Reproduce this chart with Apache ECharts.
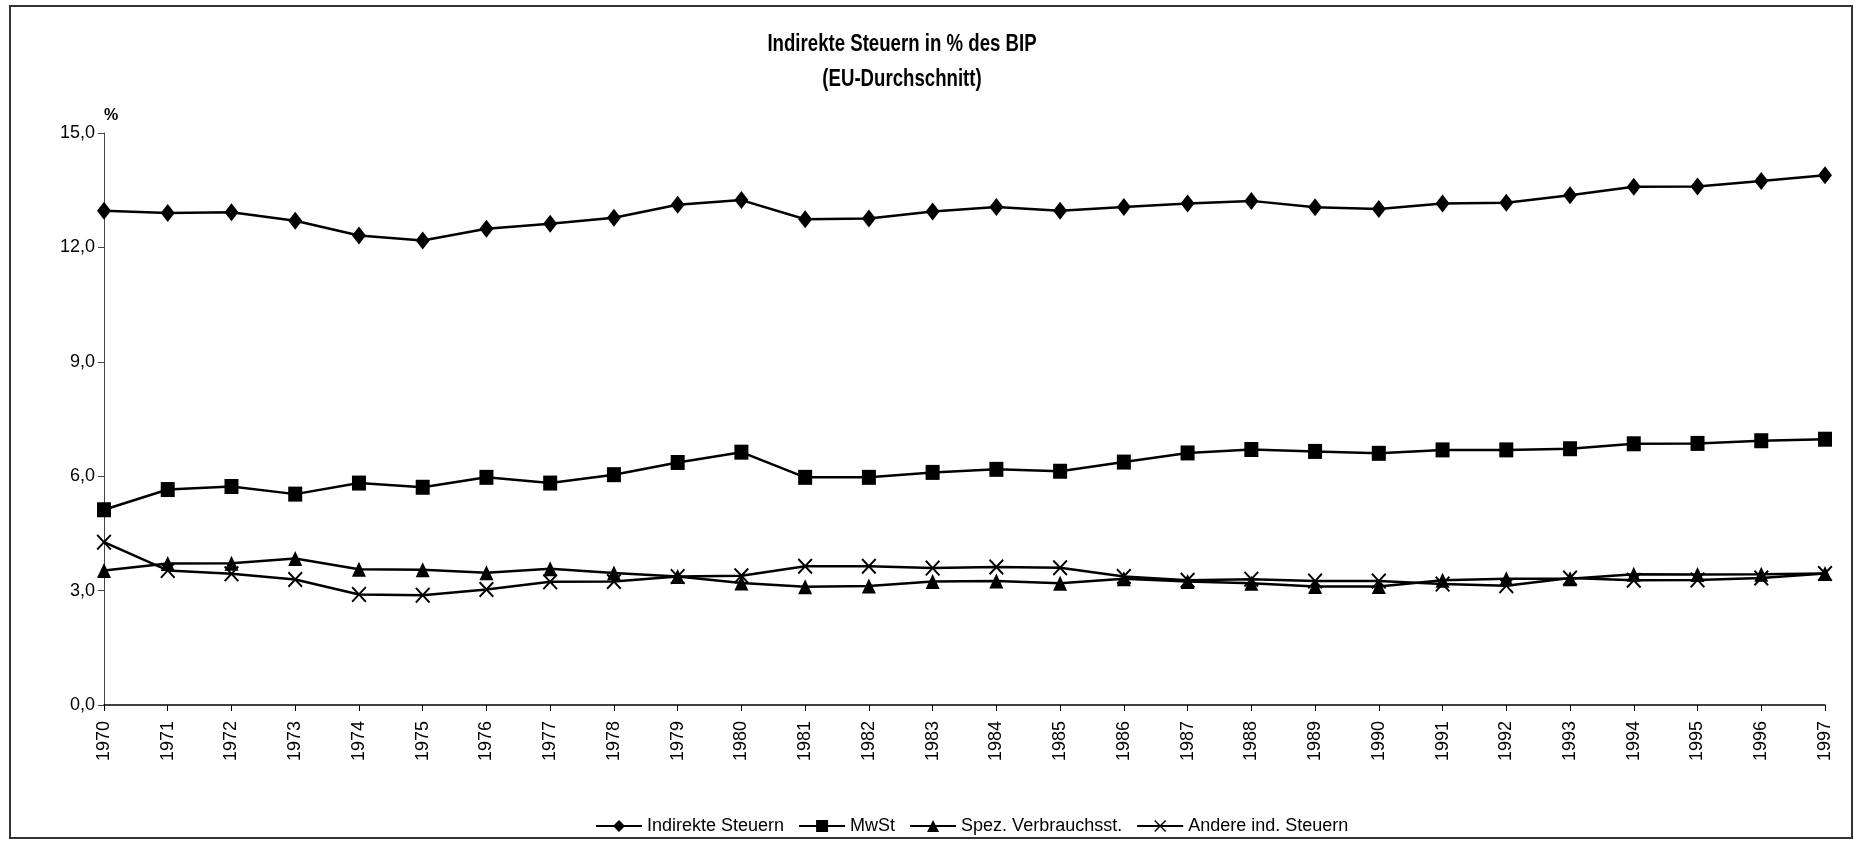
<!DOCTYPE html>
<html>
<head>
<meta charset="utf-8">
<script src="https://cdn.jsdelivr.net/npm/echarts@6/dist/echarts.min.js"></script>
<style>
html,body{margin:0;padding:0;background:#fff;}
#chart{width:1854px;height:841px;}
</style>
</head>
<body>
<div id="chart"></div>
<script>
const years = ['1970','1971','1972','1973','1974','1975','1976','1977','1978','1979','1980','1981','1982','1983','1984','1985','1986','1987','1988','1989','1990','1991','1992','1993','1994','1995','1996','1997'];
const indirekteSteuern = [12.96,12.90,12.92,12.70,12.31,12.18,12.49,12.62,12.78,13.12,13.24,12.74,12.76,12.94,13.06,12.96,13.06,13.15,13.22,13.05,13.01,13.15,13.17,13.37,13.59,13.60,13.74,13.89];
const mwst = [5.12,5.65,5.73,5.53,5.82,5.71,5.97,5.82,6.04,6.36,6.63,5.97,5.97,6.10,6.18,6.13,6.37,6.61,6.70,6.65,6.60,6.69,6.69,6.72,6.85,6.86,6.93,6.97];
const spezVerbrauch = [3.53,3.71,3.72,3.84,3.56,3.55,3.47,3.57,3.46,3.37,3.20,3.10,3.12,3.24,3.25,3.19,3.31,3.24,3.19,3.11,3.11,3.27,3.31,3.31,3.43,3.42,3.43,3.45];
const andereSteuern = [4.27,3.53,3.44,3.29,2.90,2.88,3.03,3.23,3.24,3.37,3.39,3.64,3.64,3.59,3.62,3.60,3.37,3.27,3.30,3.25,3.25,3.17,3.13,3.33,3.27,3.28,3.33,3.45];
const seriesNames = ['Indirekte Steuern','MwSt','Spez. Verbrauchsst.','Andere ind. Steuern'];
const titleLines = ['Indirekte Steuern in % des BIP','(EU-Durchschnitt)'];
const yTicks = [0,3,6,9,12,15];

const regular = '"Liberation Sans",Arial,sans-serif';
const xPath = 'path://M0,0.9 L0.9,0 L5,4.1 L9.1,0 L10,0.9 L5.9,5 L10,9.1 L9.1,10 L5,5.9 L0.9,10 L0,9.1 L4.1,5 Z';

function mk(name, data, symbol, size){
  return {
    name: name, type: 'line', data: data, symbol: symbol, symbolSize: size,
    showAllSymbol: true, animation: false,
    lineStyle: {color: '#000', width: 2.5},
    itemStyle: {color: '#000'}
  };
}

function titleText(txt, y){
  return {
    type: 'text', x: 902, y: y, scaleX: 0.81, silent: true,
    style: {text: txt, fontFamily: regular, fontWeight: 'bold', fontSize: 23,
      fill: '#000', textAlign: 'center', textVerticalAlign: 'middle', verticalAlign: 'middle'}
  };
}

const chart = echarts.init(document.getElementById('chart'), null, {renderer: 'canvas'});
chart.setOption({
  backgroundColor: '#fff',
  animation: false,
  graphic: [
    {type: 'rect', shape: {x: 10, y: 6, width: 1842, height: 832},
      style: {fill: 'none', stroke: '#333', lineWidth: 2}, silent: true, z: -1},
    titleText(titleLines[0], 44.5),
    titleText(titleLines[1], 79.5)
  ],
  legend: {
    bottom: 1, left: 590,
    data: seriesNames,
    itemWidth: 46, itemHeight: 15, itemGap: 14,
    textStyle: {fontFamily: regular, fontSize: 18, color: '#000'}
  },
  grid: {left: 104, right: 29, top: 133, bottom: 136, containLabel: false},
  xAxis: {
    type: 'category', data: years, boundaryGap: false,
    axisLine: {lineStyle: {color: '#000', width: 1.5}},
    axisTick: {show: true, length: 6, lineStyle: {color: '#000'}, alignWithLabel: true},
    axisLabel: {rotate: 90, margin: 16, fontFamily: regular, fontSize: 18, color: '#000', interval: 0},
    splitLine: {show: false}
  },
  yAxis: {
    type: 'value', min: 0, max: 15, interval: 3,
    name: '%', nameLocation: 'end', nameGap: 17,
    nameTextStyle: {fontFamily: regular, fontWeight: 'bold', fontSize: 16, color: '#000', align: 'left', verticalAlign: 'middle'},
    axisLine: {show: true, lineStyle: {color: '#444', width: 1}},
    axisTick: {show: true, length: 6, lineStyle: {color: '#444'}},
    axisLabel: {fontFamily: regular, fontSize: 18, color: '#000', margin: 9,
      formatter: function(v){ return yTicks.indexOf(v) >= 0 ? v.toFixed(1).replace('.', ',') : ''; }},
    splitLine: {show: false}
  },
  series: [
    mk(seriesNames[0], indirekteSteuern, 'diamond', [14, 18]),
    mk(seriesNames[1], mwst, 'rect', [14, 15]),
    mk(seriesNames[2], spezVerbrauch, 'triangle', [14, 15]),
    mk(seriesNames[3], andereSteuern, xPath, [15, 16])
  ]
});
</script>
</body>
</html>
